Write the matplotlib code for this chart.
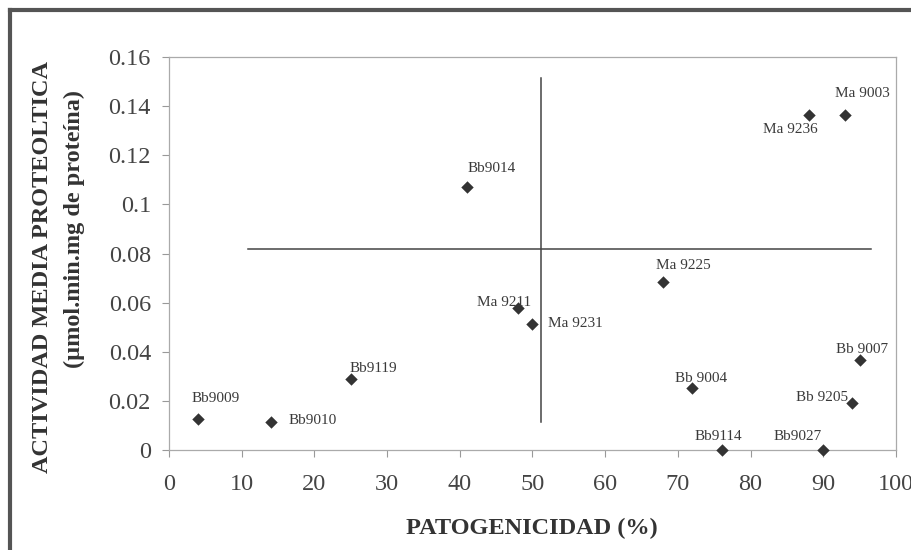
import numpy as np
import matplotlib
matplotlib.use("Agg")
import matplotlib.pyplot as plt
from matplotlib.lines import Line2D

# settings
plt.rcParams.update({
    'font.family': ['Liberation Serif', 'DejaVu Serif'],
    'text.color': '#3a3a3a',
    'axes.labelcolor': '#333333',
    'xtick.color': '#999999',
    'ytick.color': '#999999',
    'xtick.labelcolor': '#444444',
    'ytick.labelcolor': '#444444',
})

# data
cepas = ['Bb9009', 'Bb9010', 'Bb9119', 'Bb9014', 'Ma 9211', 'Ma 9231',
         'Ma 9225', 'Bb 9004', 'Bb9114', 'Ma 9236', 'Bb9027', 'Ma 9003',
         'Bb 9205', 'Bb 9007']
patogenicidad = [4, 14, 25, 41, 48, 50, 68, 72, 76, 88, 90, 93, 94, 95]
actividad = [0.0125, 0.0113, 0.029, 0.107, 0.0577, 0.0512, 0.0685, 0.0251,
             0.0, 0.1364, 0.0, 0.1364, 0.019, 0.0366]

# quadrant lines
hline_y = 0.0818
hline_x = [10.9, 96.6]
vline_x = 51.2
vline_y = [0.0113, 0.1513]

xticks = np.arange(0, 101, 10)
yticks = [0, 0.02, 0.04, 0.06, 0.08, 0.1, 0.12, 0.14, 0.16]
yticklabels = ['0', '0.02', '0.04', '0.06', '0.08', '0.1', '0.12', '0.14', '0.16']

# label offsets in pixels: left edge relative to point, vertical shift
offsets = {
    'Bb9009': (-7, 21),
    'Bb9010': (18, 2),
    'Bb9119': (-1, 10),
    'Bb9014': (0, 19),
    'Ma 9211': (-41, 6),
    'Ma 9231': (16, 1),
    'Ma 9225': (-7, 16),
    'Bb 9004': (-17, 10),
    'Bb9114': (-27, 14),
    'Ma 9236': (-46, -15),
    'Bb9027': (-50, 14),
    'Ma 9003': (-10, 21),
    'Bb 9205': (-56, 6),
    'Bb 9007': (-24, 11),
}

fig = plt.figure(figsize=(9.12, 5.5), dpi=100)
ax = fig.add_axes([169/912, 1-450/550, (896-169)/912, (450-57)/550])

ax.scatter(patogenicidad, actividad, marker='D', s=40, color='#333333',
           zorder=3, linewidths=0, clip_on=False)
ax.plot(hline_x, [hline_y, hline_y], color='#444444', lw=1.1)
ax.plot([vline_x, vline_x], vline_y, color='#444444', lw=1.1)

for c, x, y in zip(cepas, patogenicidad, actividad):
    dx, dy = offsets[c]
    ax.annotate(c, (x, y), xytext=(dx, dy), textcoords='offset pixels',
                ha='left', va='center', fontsize=11, color='#3a3a3a',
                annotation_clip=False)

ax.set_xlim(0, 100)
ax.set_ylim(0, 0.16)
ax.set_xticks(xticks)
ax.set_yticks(yticks)
ax.set_yticklabels(yticklabels)
ax.tick_params(axis='both', direction='out', length=5, width=0.8,
               labelsize=17.5)
ax.tick_params(axis='x', pad=12)
ax.tick_params(axis='y', pad=8)
for s in ax.spines.values():
    s.set_color('#aaaaaa')
    s.set_linewidth(0.9)

fig.text(532/912, 1-528/550, 'PATOGENICIDAD (%)', ha='center', va='center',
         fontsize=17.5, fontweight='bold', color='#333333')
fig.text(43/912, 1-267/550, 'ACTIVIDAD MEDIA PROTEOLTICA', ha='center',
         va='center', rotation=90, fontsize=17.5, fontweight='bold',
         color='#333333')
fig.text(74/912, 1-229/550, '(µmol.min.mg de proteína)', ha='center',
         va='center', rotation=90, fontsize=17.5, fontweight='bold',
         color='#333333')

# scan frame (left and top edges)
fig.add_artist(Line2D([10/912, 10/912], [0, 1-10/550], color='#555555',
                      lw=3, transform=fig.transFigure))
fig.add_artist(Line2D([10/912, 1], [1-10/550, 1-10/550], color='#555555',
                      lw=3, transform=fig.transFigure))

fig.savefig('out.png', dpi=100)
